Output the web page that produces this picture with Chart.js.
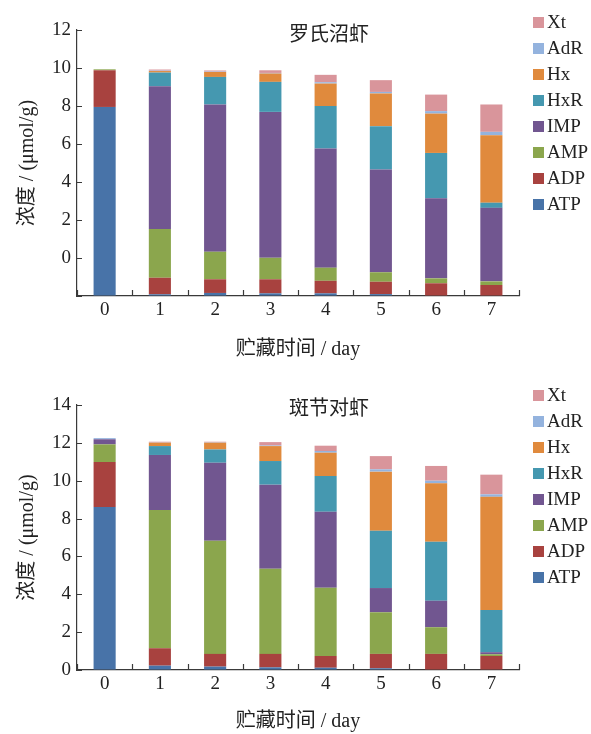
<!DOCTYPE html>
<html>
<head>
<meta charset="utf-8">
<script src="https://cdn.jsdelivr.net/npm/chart.js@4.4.1/dist/chart.umd.min.js"></script>
<style>
  html, body { margin: 0; padding: 0; background: #fff; }
  body { width: 591px; height: 734px; position: relative; overflow: hidden; }
  .panel { position: absolute; left: 0; width: 591px; height: 367px; }
</style>
</head>
<body>
<div class="panel" style="top: 0"><canvas id="chart-mr"></canvas></div>
<div class="panel" style="top: 367px"><canvas id="chart-pm"></canvas></div>
<script>
// Storage days (x axis)
const days = ["0", "1", "2", "3", "4", "5", "6", "7"];

// Compounds, stacked from the bottom up
const compounds = ["ATP", "ADP", "AMP", "IMP", "HxR", "Hx", "AdR", "Xt"];
const compoundColors = ["#4873a8", "#a8423f", "#8ba64d", "#715690", "#4598b0", "#e08a3d", "#94b3de", "#d9959b"];

// 罗氏沼虾 (µmol/g)
const mrATP = [9.95, 0.09, 0.16, 0.14, 0.14, 0.10, 0, 0];
const mrADP = [1.93, 0.87, 0.72, 0.74, 0.66, 0.65, 0.67, 0.58];
const mrAMP = [0.05, 2.56, 1.45, 1.13, 0.69, 0.50, 0.26, 0.19];
const mrIMP = [0, 7.52, 7.75, 7.68, 6.27, 5.41, 4.22, 3.87];
const mrHxR = [0, 0.72, 1.45, 1.58, 2.24, 2.28, 2.38, 0.27];
const mrHx  = [0, 0.08, 0.26, 0.44, 1.18, 1.72, 2.07, 3.55];
const mrAdR = [0, 0.02, 0.02, 0.03, 0.07, 0.08, 0.13, 0.18];
const mrXt  = [0, 0.06, 0.06, 0.14, 0.39, 0.62, 0.87, 1.44];

// 斑节对虾 (µmol/g)
const pmATP = [8.61, 0.23, 0.18, 0.14, 0.12, 0.09, 0, 0];
const pmADP = [2.38, 0.92, 0.67, 0.71, 0.62, 0.76, 0.85, 0.74];
const pmAMP = [0.93, 7.30, 5.98, 4.50, 3.61, 2.20, 1.41, 0.09];
const pmIMP = [0.27, 2.91, 4.12, 4.44, 4.01, 1.28, 1.40, 0.11];
const pmHxR = [0, 0.47, 0.70, 1.25, 1.89, 3.03, 3.12, 2.23];
const pmHx  = [0, 0.18, 0.36, 0.79, 1.23, 3.12, 3.08, 5.98];
const pmAdR = [0.06, 0.01, 0.02, 0.03, 0.09, 0.12, 0.14, 0.13];
const pmXt  = [0, 0.04, 0.03, 0.18, 0.28, 0.70, 0.78, 1.04];

// Tick labels. The upper figure labels its axis shifted by 2 (bottom tick unlabeled).
const mrTickLabels = ["", "0", "2", "4", "6", "8", "10", "12"];
const pmTickLabels = ["0", "2", "4", "6", "8", "10", "12", "14"];

const SERIF = "'Liberation Serif', 'Noto Sans CJK SC', serif";
const INK = "#222";
const AXIS = "#3a3a3a";

// Inward tick marks on both axes
const innerTicks = {
  id: "innerTicks",
  afterDraw(chart) {
    const { ctx, chartArea, scales: { x, y } } = chart;
    ctx.save();
    ctx.strokeStyle = AXIS;
    ctx.lineWidth = 1.2;
    ctx.beginPath();
    y.ticks.forEach((t, i) => {
      const py = Math.round(y.getPixelForTick(i)) + 0.5;
      ctx.moveTo(chartArea.left, py);
      ctx.lineTo(chartArea.left + 5, py);
    });
    for (let i = 0; i <= days.length; i++) {
      const px = Math.round(x.getPixelForValue(i - 0.5)) + 0.5;
      ctx.moveTo(px, chartArea.bottom);
      ctx.lineTo(px, chartArea.bottom - 6);
    }
    ctx.stroke();
    ctx.restore();
  },
};

// Species name inside the plot, and the legend to the right (Xt on top)
const panelText = {
  id: "panelText",
  afterDraw(chart, args, opts) {
    const { ctx, chartArea } = chart;
    ctx.save();
    ctx.fillStyle = INK;
    ctx.textBaseline = "middle";
    ctx.textAlign = "center";
    ctx.font = "20px " + SERIF;
    ctx.fillText(opts.label, chartArea.left + chartArea.width * 0.57, chartArea.top + opts.labelDy);

    ctx.textAlign = "left";
    ctx.font = "19px " + SERIF;
    const sets = chart.data.datasets.slice().reverse();
    sets.forEach((ds, i) => {
      const cy = chartArea.top + opts.legendDy + i * 26;
      ctx.fillStyle = ds.backgroundColor;
      ctx.fillRect(chartArea.right + 14, cy - 5, 11, 11);
      ctx.fillStyle = INK;
      ctx.fillText(ds.label, chartArea.right + 28, cy + 1);
    });
    ctx.restore();
  },
};

function buildPanel(canvasId, label, series, tickLabels, frame) {
  const datasets = compounds.map((name, i) => ({
    label: name,
    data: series[i],
    backgroundColor: compoundColors[i],
    borderWidth: 0,
    barPercentage: 0.4,
    categoryPercentage: 1.0,
  }));

  return new Chart(document.getElementById(canvasId), {
    type: "bar",
    data: { labels: days, datasets: datasets },
    plugins: [innerTicks, panelText],
    options: {
      responsive: false,
      animation: false,
      devicePixelRatio: 1,
      layout: { padding: { top: frame.top, right: 72, left: 0, bottom: 0 } },
      plugins: {
        legend: { display: false },
        tooltip: { enabled: false },
        panelText: { label: label, labelDy: frame.labelDy, legendDy: frame.legendDy },
      },
      scales: {
        x: {
          stacked: true,
          grid: { drawOnChartArea: false, drawTicks: false },
          border: { color: AXIS, width: 1.2 },
          ticks: { color: INK, font: { family: SERIF, size: 19 }, padding: frame.xTickPad },
          title: {
            display: true,
            text: "贮藏时间 / day",
            color: INK,
            font: { family: SERIF, size: 20 },
            padding: { top: 0, bottom: frame.xTitlePad },
          },
          afterFit: (s) => { s.height = frame.xAxisHeight; },
        },
        y: {
          stacked: true,
          min: 0,
          max: 14,
          grid: { drawOnChartArea: false, drawTicks: false },
          border: { color: AXIS, width: 1.2 },
          ticks: {
            stepSize: 2,
            color: INK,
            font: { family: SERIF, size: 19 },
            padding: 6,
            callback: (v, i) => tickLabels[i],
          },
          title: {
            display: true,
            text: "浓度 / (μmol/g)",
            color: INK,
            font: { family: SERIF, size: 20 },
            padding: { top: 16, bottom: 0 },
          },
          afterFit: (s) => { s.width = 77; },
        },
      },
    },
  });
}

document.getElementById("chart-mr").width = 591;
document.getElementById("chart-mr").height = 367;
document.getElementById("chart-pm").width = 591;
document.getElementById("chart-pm").height = 367;

buildPanel(
  "chart-mr",
  "罗氏沼虾",
  [mrATP, mrADP, mrAMP, mrIMP, mrHxR, mrHx, mrAdR, mrXt],
  mrTickLabels,
  { top: 30, xAxisHeight: 71, xTickPad: 3, xTitlePad: 5, labelDy: 6, legendDy: -8 }
);

buildPanel(
  "chart-pm",
  "斑节对虾",
  [pmATP, pmADP, pmAMP, pmIMP, pmHxR, pmHx, pmAdR, pmXt],
  pmTickLabels,
  { top: 38, xAxisHeight: 64, xTickPad: 3, xTitlePad: 0, labelDy: 5, legendDy: -10 }
);
</script>
</body>
</html>
